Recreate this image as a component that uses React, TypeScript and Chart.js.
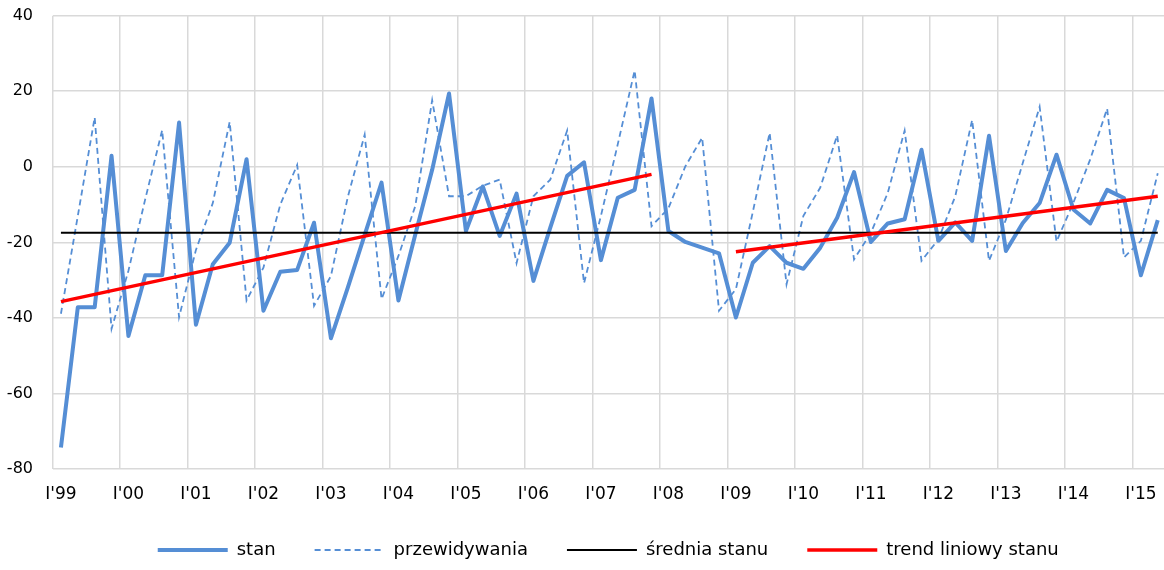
import React, { useEffect, useRef } from "react";
import { Chart, registerables } from "chart.js";

Chart.register(...registerables);

const yearLabels = ["I'99", "I'00", "I'01", "I'02", "I'03", "I'04", "I'05", "I'06", "I'07", "I'08", "I'09", "I'10", "I'11", "I'12", "I'13", "I'14", "I'15"];

// quarterly values, I'99 .. II'15
const stan = [
  -74.3, -37.2, -37.2, 2.9,
  -44.8, -28.7, -28.7, 11.7,
  -41.8, -25.8, -20.1, 2.0,
  -38.1, -27.8, -27.3, -14.8,
  -45.4, -32.0, -18.0, -4.2,
  -35.4, -17.9, -0.8, 19.4,
  -17.0, -5.2, -18.3, -7.1,
  -30.2, -16.1, -2.4, 1.2,
  -24.7, -8.2, -6.1, 18.1,
  -17.0, -19.9, -21.4, -22.9,
  -39.9, -25.4, -21.0, -25.4,
  -27.0, -21.4, -13.5, -1.4,
  -19.9, -15.0, -13.9, 4.5,
  -19.6, -14.7, -19.6, 8.2,
  -22.3, -14.9, -9.6, 3.2,
  -11.3, -15.0, -6.1, -8.3,
  -28.7, -14.1,
];

const przewidywania = [
  -38.9, -13.0, 13.1, -42.9,
  -27.5, -8.5, 9.7, -39.8,
  -22.0, -9.6, 11.9, -35.4,
  -26.7, -10.0, 0.5, -36.8,
  -28.9, -8.0, 8.5, -35.0,
  -23.6, -10.4, 17.6, -7.8,
  -7.8, -5.0, -3.4, -25.5,
  -7.8, -3.4, 9.6, -30.8,
  -13.0, 6.0, 25.5, -15.7,
  -11.0, 0.1, 7.7, -38.1,
  -32.4, -12.0, 9.0, -31.1,
  -13.0, -5.5, 8.3, -24.5,
  -17.5, -6.9, 9.6, -24.9,
  -19.2, -7.8, 12.4, -24.9,
  -14.0, 1.0, 15.9, -19.8,
  -9.5, 2.0, 15.4, -24.0,
  -19.6, -1.7,
];

const sredniaStanu = -17.45;
// trend segments: [start quarter index, start value, end quarter index, end value]
const trend1 = [0, -35.7, 35, -2.0];
const trend2 = [40, -22.5, 65, -7.8];

const yTicks = [-80, -60, -40, -20, 0, 20, 40];

const BLUE = "#558ED5";
const FONT = "'DejaVu Sans', Verdana, sans-serif";

export default function App() {
  const ref = useRef<HTMLCanvasElement | null>(null);

  useEffect(() => {
    document.body.style.margin = "0";
    const canvas = ref.current;
    if (!canvas) return;
    const n = stan.length;
    const pts = (arr: number[]) => arr.map((v, i) => ({ x: i + 0.5, y: v }));
    const trendData = [
      { x: trend1[0] + 0.5, y: trend1[1] },
      { x: trend1[2] + 0.5, y: trend1[3] },
      { x: (trend1[2] + trend2[0]) / 2 + 0.5, y: null as any },
      { x: trend2[0] + 0.5, y: trend2[1] },
      { x: trend2[2] + 0.5, y: trend2[3] },
    ];
    const chart = new Chart(canvas, {
      type: "line",
      data: {
        datasets: [
          {
            label: "stan",
            data: pts(stan),
            borderColor: BLUE,
            backgroundColor: BLUE,
            borderWidth: 4,
            pointRadius: 0,
            borderJoinStyle: "round",
            tension: 0,
            order: 4,
          },
          {
            label: "przewidywania",
            data: pts(przewidywania),
            borderColor: BLUE,
            backgroundColor: BLUE,
            borderWidth: 1.8,
            borderDash: [6, 4],
            pointRadius: 0,
            tension: 0,
            order: 3,
          },
          {
            label: "średnia stanu",
            data: [
              { x: 0.5, y: sredniaStanu },
              { x: n - 0.5, y: sredniaStanu },
            ],
            borderColor: "#000000",
            backgroundColor: "#000000",
            borderWidth: 2,
            pointRadius: 0,
            order: 2,
          },
          {
            label: "trend liniowy stanu",
            data: trendData,
            borderColor: "#FF0000",
            backgroundColor: "#FF0000",
            borderWidth: 3.5,
            pointRadius: 0,
            spanGaps: false,
            order: 1,
          },
        ] as any,
      },
      options: {
        responsive: false,
        animation: false,
        events: [],
        layout: { padding: { left: 0, right: 0, top: 15.7, bottom: 8 } },
        plugins: {
          tooltip: { enabled: false },
          legend: {
            position: "bottom",
            fullSize: false,
            maxHeight: 60,
            labels: {
              usePointStyle: true,
              pointStyle: "line",
              pointStyleWidth: 70,
              padding: 39,
              color: "#000000",
              font: { family: FONT, size: 18 },
              generateLabels: (c: any) =>
                c.data.datasets.map((ds: any, i: number) => ({
                  text: ds.label,
                  fillStyle: ds.borderColor,
                  strokeStyle: ds.borderColor,
                  fontColor: "#000000",
                  lineWidth: ds.borderWidth,
                  lineDash: ds.borderDash || [],
                  lineCap: "butt",
                  pointStyle: "line",
                  hidden: false,
                  datasetIndex: i,
                })),
            },
          },
        },
        scales: {
          x: {
            type: "linear",
            min: 0,
            max: 65.87,
            afterBuildTicks: (scale: any) => {
              scale.ticks = yearLabels.map((_, k) => ({ value: k * 4 }));
            },
            afterFit: (scale: any) => {
              scale.height = 33;
            },
            ticks: {
              autoSkip: false,
              maxRotation: 0,
              labelOffset: 8.44,
              padding: 15,
              color: "#000000",
              font: { family: FONT, size: 17 },
              callback: (value: any) => yearLabels[Math.round(Number(value) / 4)] ?? "",
            },
            grid: { color: "#D9D9D9", lineWidth: 1.5, drawTicks: false },
            border: { display: false },
          },
          y: {
            min: -80,
            max: 40,
            afterBuildTicks: (scale: any) => {
              scale.ticks = yTicks.map((v) => ({ value: v }));
            },
            afterFit: (scale: any) => {
              scale.width = 52.5;
            },
            ticks: {
              padding: 0,
              color: "#000000",
              font: { family: FONT, size: 16 },
            },
            grid: {
              color: "#D9D9D9",
              lineWidth: 1.5,
              drawTicks: true,
              tickLength: 19.5,
              tickColor: "rgba(0,0,0,0)",
            },
            border: { display: false },
          },
        },
      } as any,
    });
    return () => chart.destroy();
  }, []);

  return (
    <div style={{ position: "absolute", left: 0, top: 0, width: 1164, height: 570, background: "#fff" }}>
      <canvas ref={ref} width={1164} height={570} style={{ display: "block" }} />
    </div>
  );
}
